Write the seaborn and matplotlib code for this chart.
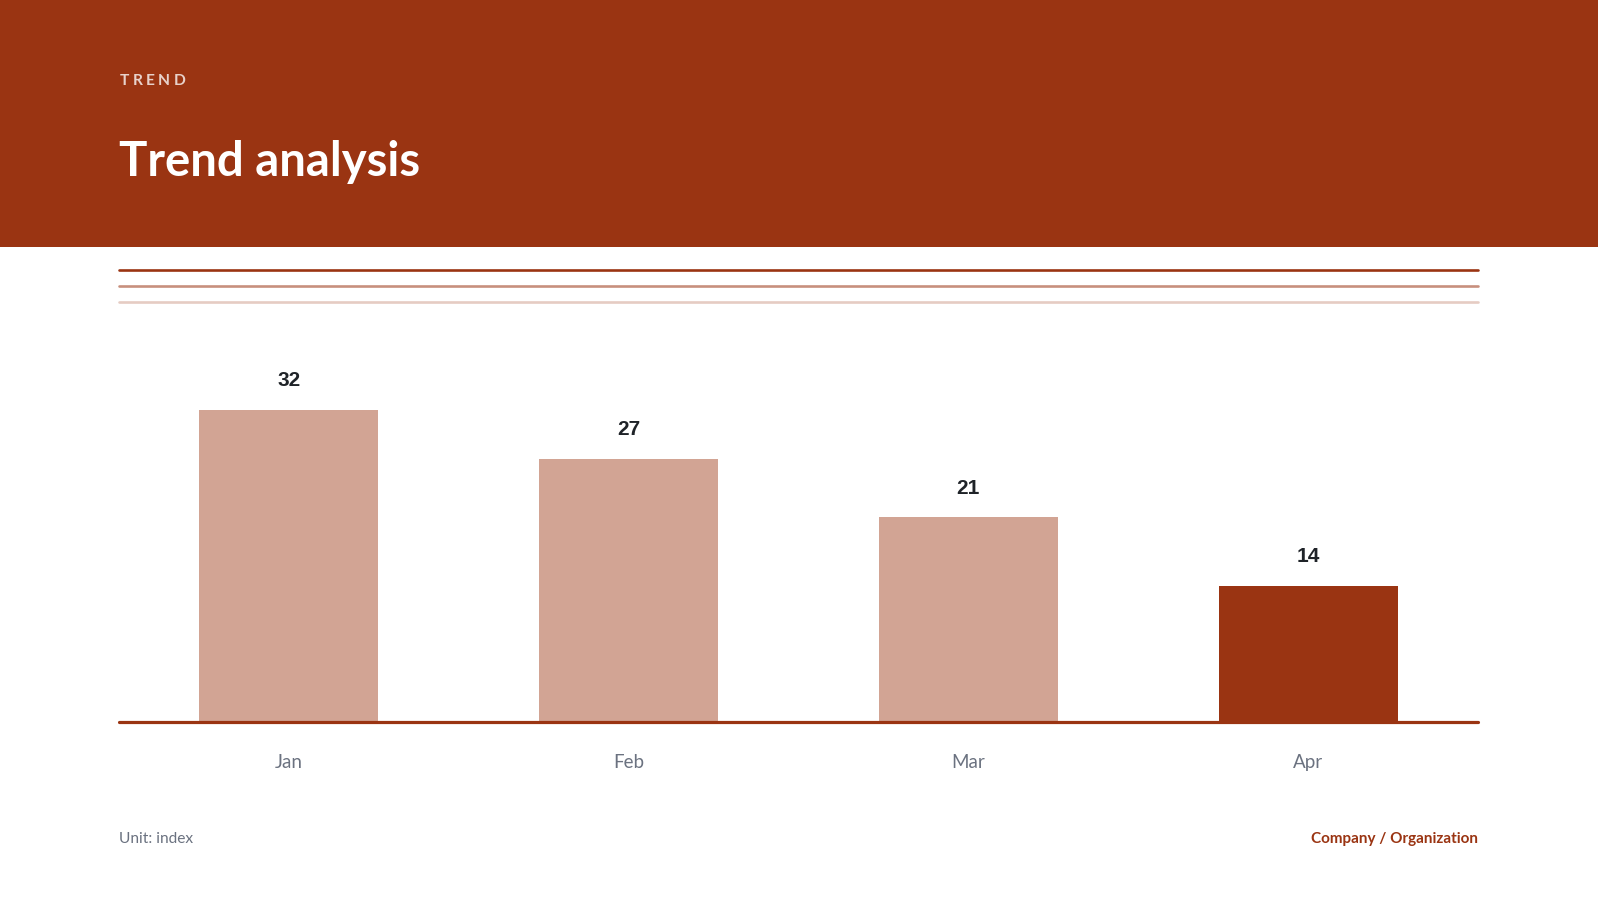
import matplotlib
matplotlib.use("Agg")
import matplotlib.pyplot as plt
import seaborn as sns
import pandas as pd
from matplotlib.patches import Rectangle
from matplotlib.lines import Line2D

# ---- data ----
months = ["Jan", "Feb", "Mar", "Apr"]
values = [32, 27, 21, 14]
highlight = ["Apr"]

eyebrow = "TREND"
title = "Trend analysis"
unit_note = "Unit: index"
source_note = "Company / Organization"

# ---- style ----
RUST = "#9a3412"
LIGHT = "#d2a494"
GRAY = "#6b7280"
DARK = "#1f2328"

sns.set_theme(style="white")
plt.rcParams["font.family"] = ["Lato", "DejaVu Sans"]

W, H = 1598, 900
fig = plt.figure(figsize=(W / 100, H / 100), dpi=100)
fig.patch.set_facecolor("white")

def fx(px):
    return px / W

def fy(py):
    return 1 - py / H

# header band
fig.patches.append(Rectangle((0, fy(247)), 1, 247 / H, transform=fig.transFigure,
                             facecolor=RUST, edgecolor="none", zorder=0))

# eyebrow with letter spacing
renderer = fig.canvas.get_renderer()
x = fx(120)
for ch in eyebrow:
    t = fig.text(x, fy(85), ch, color=(1, 1, 1, 0.78), fontsize=11.2,
                 fontweight="bold", va="baseline", ha="left")
    bb = t.get_window_extent(renderer=renderer)
    x += (bb.width + 3.3) / W

fig.text(fx(119), fy(176), title, color="white", fontsize=34, fontweight="bold",
         va="baseline", ha="left")

# decorative rules
for ypx, alpha in [(270, 1.0), (286, 0.55), (302, 0.25)]:
    fig.lines.append(Line2D([fx(119), fx(1478)], [fy(ypx), fy(ypx)],
                            transform=fig.transFigure, color=RUST, alpha=alpha,
                            linewidth=1.9))

# ---- chart ----
df = pd.DataFrame({"month": months, "value": values})
palette = {m: (RUST if m in highlight else LIGHT) for m in months}

ax = fig.add_axes([fx(119), fy(722), fx(1478) - fx(119), (722 - 332) / H])
sns.barplot(data=df, x="month", y="value", hue="month", palette=palette,
            width=0.527, legend=False, ax=ax, saturation=1, edgecolor="none")
ax.set_xlim(-0.5, len(months) - 0.5)
ax.set_ylim(0, 40)
ax.set_facecolor("none")
for s in ax.spines.values():
    s.set_visible(False)
ax.axhline(0, color=RUST, linewidth=2.3, zorder=5, clip_on=False)
ax.set_yticks([])
ax.set_xlabel("")
ax.set_ylabel("")
ax.tick_params(axis="x", length=0, pad=23, labelsize=13.5, labelcolor=GRAY)

for i, v in enumerate(values):
    ax.annotate(f"{v}", xy=(i, v), xytext=(0, 17), textcoords="offset points",
                ha="center", va="baseline", fontsize=15, fontweight="bold",
                color=DARK, family=["Liberation Sans", "DejaVu Sans"])

# footer
fig.text(fx(119), fy(843), unit_note, color=GRAY, fontsize=11.2,
         ha="left", va="baseline")
fig.text(fx(1478), fy(843), source_note, color=RUST, fontsize=11,
         fontweight="bold", ha="right", va="baseline")

fig.savefig("out.png", dpi=100, facecolor="white")
